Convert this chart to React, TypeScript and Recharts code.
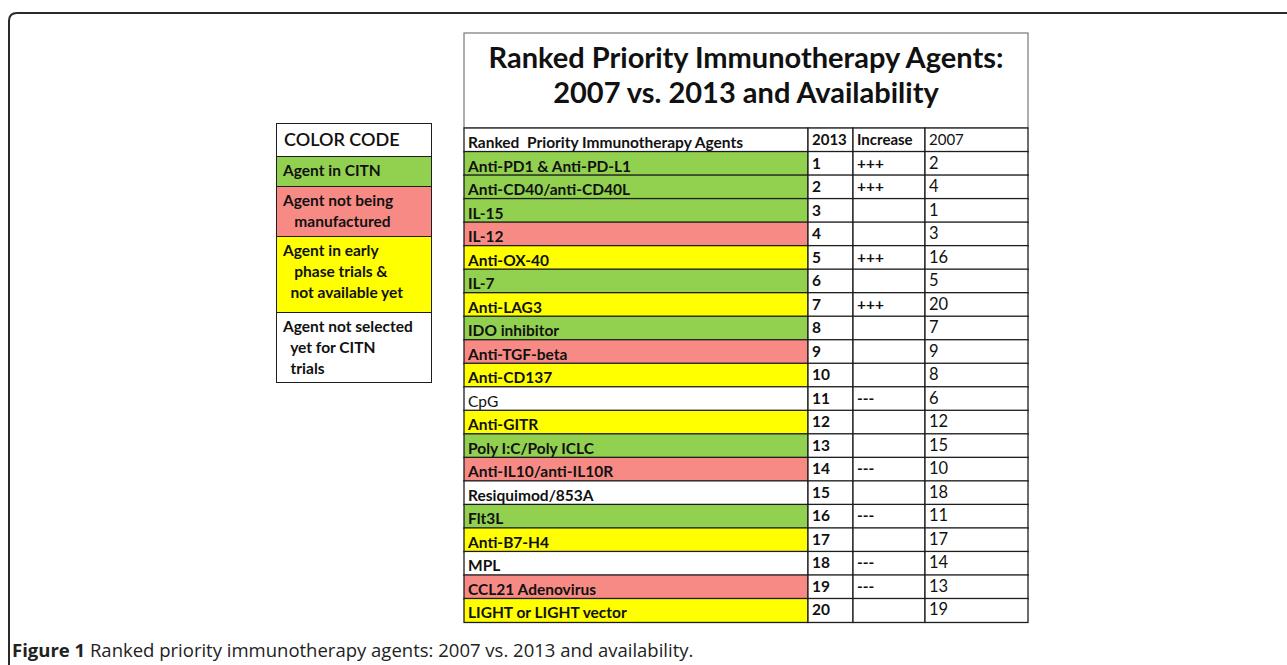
import { BarChart, Bar, XAxis, YAxis, Legend } from 'recharts';

// rangs 2013 -> agents
const agents = [
  'Anti-PD1 & Anti-PD-L1', 'Anti-CD40/anti-CD40L', 'IL-15', 'IL-12', 'Anti-OX-40',
  'IL-7', 'Anti-LAG3', 'IDO inhibitor', 'Anti-TGF-beta', 'Anti-CD137',
  'CpG', 'Anti-GITR', 'Poly I:C/Poly ICLC', 'Anti-IL10/anti-IL10R', 'Resiquimod/853A',
  'Flt3L', 'Anti-B7-H4', 'MPL', 'CCL21 Adenovirus', 'LIGHT or LIGHT vector',
];
const rank2013 = [1, 2, 3, 4, 5, 6, 7, 8, 9, 10, 11, 12, 13, 14, 15, 16, 17, 18, 19, 20];
const increase = ['+++', '+++', '', '', '+++', '', '+++', '', '', '', '---', '', '', '---', '', '---', '', '---', '---', ''];
const rank2007 = [2, 4, 1, 3, 16, 5, 20, 7, 9, 8, 6, 12, 15, 10, 18, 11, 17, 14, 13, 19];
const status = [
  'citn', 'citn', 'citn', 'noman', 'early', 'citn', 'early', 'citn', 'noman', 'early',
  'none', 'early', 'citn', 'noman', 'none', 'citn', 'early', 'none', 'noman', 'early',
];
const headers = ['Ranked  Priority Immunotherapy Agents', '2013', 'Increase', '2007'];

// column widths (layout only)
const colWidths = { wName: 344, w2013: 45, wInc: 72, w2007: 103 };

const statusColor: Record<string, string> = {
  citn: '#92D050',
  noman: '#F88A86',
  early: '#FFFF00',
  none: '#FFFFFF',
  header: '#FFFFFF',
};

const colorCode = [
  { key: 'head', label: 'COLOR CODE', fill: '#FFFFFF', h: 32 },
  { key: 'citn', label: 'Agent in CITN', fill: statusColor.citn, h: 30 },
  { key: 'noman', label: 'Agent not being\n   manufactured', fill: statusColor.noman, h: 50 },
  { key: 'early', label: 'Agent in early\n   phase trials &\n  not available yet', fill: statusColor.early, h: 76 },
  { key: 'none', label: 'Agent not selected\n  yet for CITN\n  trials', fill: statusColor.none, h: 70 },
];

const rows = [
  { key: 'header', name: headers[0], r2013: headers[1], inc: headers[2], r2007: headers[3], status: 'header', ...colWidths },
  ...agents.map((a, i) => ({
    key: `row${i}`,
    name: a,
    r2013: String(rank2013[i]),
    inc: increase[i],
    r2007: String(rank2007[i]),
    status: status[i],
    ...colWidths,
  })),
];

const FONT = 'Lato, "Open Sans", sans-serif';
const BORDER = '#1e1e1e';

const makeCell = (field: string) => (props: any) => {
  const { x, y, width, height, payload } = props;
  const isHead = payload.status === 'header';
  const fill = field === 'name' ? statusColor[payload.status] : '#FFFFFF';
  let weight = 700;
  if (field === 'r2007') weight = 400;
  if (field === 'name' && payload.name === 'CpG') weight = 400;
  let size = 15.5;
  if (field === 'r2007' && !isHead) size = 16.5;
  if (field !== 'name' && isHead) size = 15;
  const ty = field === 'name' ? y + height - 4 : y + height - 7;
  return (
    <g>
      <rect x={x} y={y} width={width} height={height} fill={fill} stroke={BORDER} strokeWidth={1.3} />
      <text
        x={x + 4}
        y={ty}
        fontFamily={FONT}
        fontSize={size}
        fontWeight={weight}
        fill="#111"
        style={{ whiteSpace: 'pre' }}
      >
        {payload[field]}
      </text>
    </g>
  );
};

const ColorCode = () => (
  <div style={{ width: 156, border: `1.3px solid ${BORDER}`, fontFamily: FONT, boxSizing: 'border-box' }}>
    {colorCode.map((c, i) => (
      <div
        key={c.key}
        style={{
          height: c.h,
          background: c.fill,
          borderTop: i === 0 ? 'none' : `1.3px solid ${BORDER}`,
          boxSizing: 'border-box',
          padding: i === 0 ? '5px 0 0 7px' : '3px 0 0 6px',
          fontSize: i === 0 ? 18 : 15.5,
          fontWeight: i === 0 ? 600 : 700,
          lineHeight: i === 0 ? '21px' : '21px',
          whiteSpace: 'pre',
          color: '#111',
        }}
      >
        {c.label}
      </div>
    ))}
  </div>
);

export default function App() {
  return (
    <div style={{ position: 'absolute', left: 0, top: 0, background: '#fff' }}>
      <BarChart
        width={1287}
        height={665}
        data={rows}
        layout="vertical"
        barCategoryGap={0}
        margin={{ top: 128, right: 259, bottom: 43, left: 464 }}
      >
        <XAxis type="number" domain={[0, 564]} hide />
        <YAxis type="category" dataKey="key" hide />
        <Legend
          layout="horizontal"
          verticalAlign="middle"
          align="center"
          content={() => <ColorCode />}
          wrapperStyle={{ left: 276, top: 123, width: 156, height: 258 }}
        />
        <Bar dataKey="wName" stackId="t" shape={makeCell('name')} isAnimationActive={false} />
        <Bar dataKey="w2013" stackId="t" shape={makeCell('r2013')} isAnimationActive={false} />
        <Bar dataKey="wInc" stackId="t" shape={makeCell('inc')} isAnimationActive={false} />
        <Bar dataKey="w2007" stackId="t" shape={makeCell('r2007')} isAnimationActive={false} />

        {/* cadre du titre */}
        <rect x={464} y={33} width={564} height={95} fill="none" stroke="#777" strokeWidth={1.2} />
        <text x={746} y={68} textAnchor="middle" fontFamily={FONT} fontSize={29} fontWeight={700} fill="#111">
          Ranked Priority Immunotherapy Agents:
        </text>
        <text x={746} y={103} textAnchor="middle" fontFamily={FONT} fontSize={29} fontWeight={700} fill="#111">
          2007 vs. 2013 and Availability
        </text>

        {/* cadre de la figure */}
        <path d="M9,665 V21 Q9,13 17,13 H1287" fill="none" stroke="#2a2a2a" strokeWidth={2} />
        <text x={12} y={657} fontFamily='"Open Sans", sans-serif' fontSize={18.5} fill="#222">
          <tspan fontWeight={700}>Figure 1</tspan>
          <tspan> Ranked priority immunotherapy agents: 2007 vs. 2013 and availability.</tspan>
        </text>
      </BarChart>
    </div>
  );
}
